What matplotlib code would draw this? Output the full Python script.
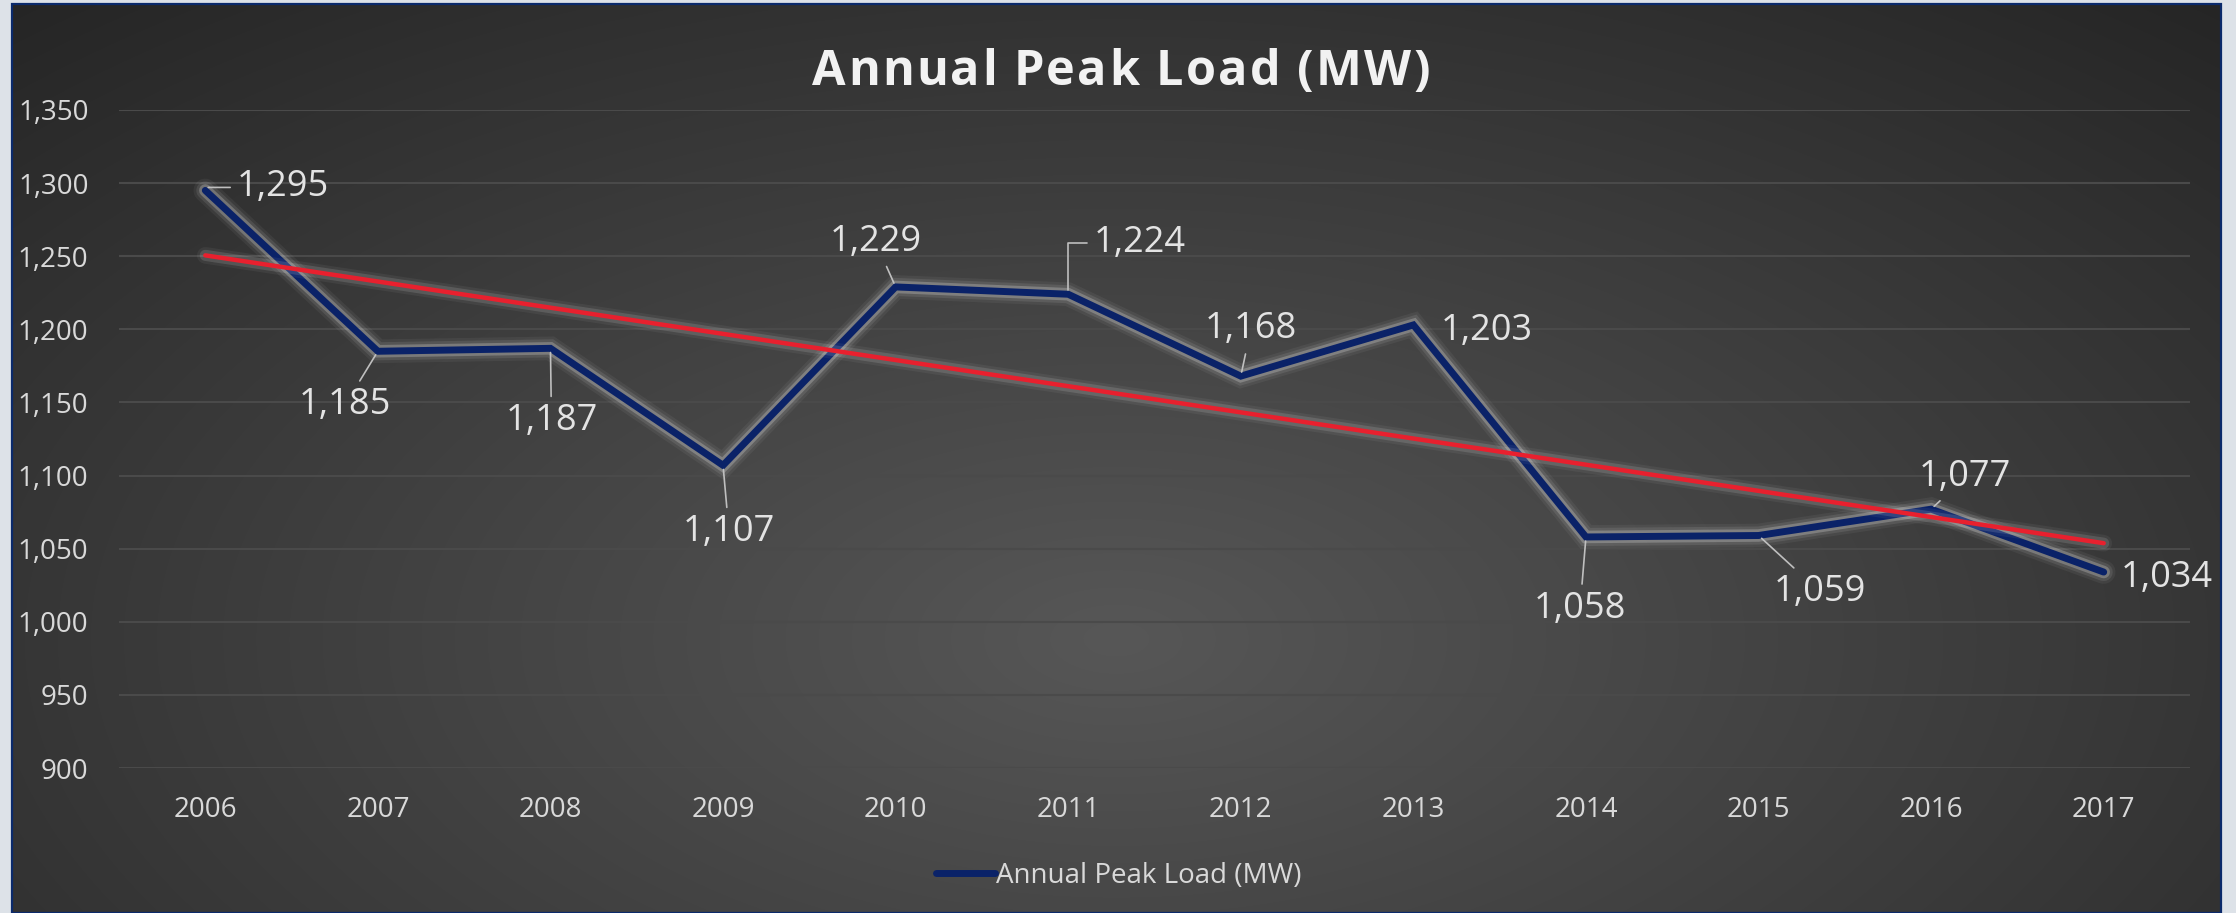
import numpy as np
import matplotlib
matplotlib.use("Agg")
import matplotlib.pyplot as plt
import matplotlib.patheffects as pe
from matplotlib.lines import Line2D
from matplotlib.patches import Rectangle

plt.rcParams['font.family'] = ['Open Sans', 'DejaVu Sans']

years = ['2006', '2007', '2008', '2009', '2010', '2011', '2012', '2013', '2014', '2015', '2016', '2017']
peak_load = [1295, 1185, 1187, 1107, 1229, 1224, 1168, 1203, 1058, 1059, 1077, 1034]
y_ticks = [900, 950, 1000, 1050, 1100, 1150, 1200, 1250, 1300, 1350]
title = 'Annual Peak Load (MW)'
series_name = 'Annual Peak Load (MW)'

# label offsets in pixels (dx, dy), leader-line connection style (None = no leader)
label_offsets = [(78, 3), (-33, -54), (1, -73), (6, -67), (-20, 45), (72, 51),
                 (10, 47), (73, -6), (-6, -72), (61, -56), (34, 32), (63, -6)]
leaders = ['angle,angleA=0,angleB=45,rad=0', 'arc3', 'arc3', 'arc3', 'arc3',
           'angle,angleA=0,angleB=90,rad=0', 'arc3', None, 'arc3', 'arc3', 'arc3', None]

W, H = 2236, 913
fig = plt.figure(figsize=(W / 100, H / 100), dpi=100)
fig.patch.set_facecolor('#dde2e8')

# chart area background with radial gradient
cx0, cx1 = 12 / W, 2221 / W
cy0, cy1 = 0.0, 1 - 4 / H
bg = fig.add_axes([cx0, cy0, cx1 - cx0, cy1 - cy0], zorder=0)
nx, ny = 600, 250
gx, gy = np.meshgrid(np.linspace(0, 1, nx), np.linspace(0, 1, ny))
r = np.sqrt(((gx - 0.5) / 0.75) ** 2 + ((gy - 0.3) / 0.95) ** 2)
r = np.clip(r, 0, 1)
inner = np.array([0x57, 0x57, 0x57]) / 255
outer = np.array([0x25, 0x25, 0x25]) / 255
img = inner[None, None, :] * (1 - r[..., None]) + outer[None, None, :] * r[..., None]
bg.imshow(img, origin='lower', extent=[0, 1, 0, 1], aspect='auto', interpolation='bilinear')
bg.set_xlim(0, 1)
bg.set_ylim(0, 1)
bg.axis('off')
fig.patches.append(Rectangle((cx0, cy0), cx1 - cx0, cy1 - cy0, transform=fig.transFigure,
                             fill=False, edgecolor='#0b2a6b', linewidth=1.6, zorder=5))

ax_left, ax_right = 119 / W, 2190 / W
ax_bottom, ax_top = 1 - 768 / H, 1 - 110 / H
ax = fig.add_axes([ax_left, ax_bottom, ax_right - ax_left, ax_top - ax_bottom], zorder=2)
ax.set_facecolor('none')

x = np.arange(len(years))
ax.set_xlim(-0.5, len(years) - 0.5)
ax.set_ylim(900, 1350)
ax.set_yticks(y_ticks)
ax.set_yticklabels([f'{v:,}' for v in y_ticks])
ax.set_xticks(x)
ax.set_xticklabels(years)
ax.grid(axis='y', color='#4a4a4a', linewidth=1.5)
ax.set_axisbelow(True)
for s in ax.spines.values():
    s.set_visible(False)
ax.tick_params(axis='both', length=0, labelsize=20, colors='#d9d9d9')
ax.tick_params(axis='y', pad=22)
ax.tick_params(axis='x', pad=20)

glow = [pe.Stroke(linewidth=17, foreground='white', alpha=0.05),
        pe.Stroke(linewidth=13, foreground='white', alpha=0.09),
        pe.Stroke(linewidth=9, foreground='white', alpha=0.22),
        pe.Normal()]

NAVY = '#0a2268'
ax.plot(x, peak_load, color=NAVY, linewidth=5, solid_capstyle='round',
        solid_joinstyle='miter', zorder=3, path_effects=glow)

coef = np.polyfit(x, peak_load, 1)
trend = np.polyval(coef, x)
glow2 = [pe.Stroke(linewidth=12, foreground='white', alpha=0.05),
         pe.Stroke(linewidth=8, foreground='white', alpha=0.12),
         pe.Normal()]
ax.plot(x, trend, color='#e8202e', linewidth=3.2, solid_capstyle='round', zorder=4,
        path_effects=glow2)

for xi, v, (dx, dy), ld in zip(x, peak_load, label_offsets, leaders):
    kw = {}
    if ld:
        kw['arrowprops'] = dict(arrowstyle='-', color='#bfbfbf', linewidth=1.2,
                                shrinkA=3, shrinkB=3, connectionstyle=ld)
    ax.annotate(f'{v:,}', xy=(xi, v), xytext=(dx, dy), textcoords='offset pixels',
                ha='center', va='center', fontsize=26, color='#e3e3e3', zorder=6, **kw)

# title with letter spacing
renderer = fig.canvas.get_renderer()
title_size = 35
spacing = 2.2  # px between letters
chars = []
widths = []
for ch in title:
    t = fig.text(0, 0, ch, fontsize=title_size, fontweight='bold', color='#f2f2f2',
                 ha='left', va='baseline', zorder=6)
    if ch == ' ':
        w = fig.text(0, 0, 'a a', fontsize=title_size, fontweight='bold').get_window_extent(renderer).width
        fig.texts.pop()
        w2 = fig.text(0, 0, 'aa', fontsize=title_size, fontweight='bold').get_window_extent(renderer).width
        fig.texts.pop()
        widths.append(w - w2)
    else:
        widths.append(t.get_window_extent(renderer).width)
    chars.append(t)
total = sum(widths) + spacing * (len(chars) - 1)
xpos = 1121 - total / 2
baseline = H - 85
for t, w in zip(chars, widths):
    t.set_position((xpos / W, baseline / H))
    xpos += w + spacing

handle = Line2D([], [], color=NAVY, linewidth=5, solid_capstyle='round')
fig.legend(handles=[handle], labels=[series_name], loc='center',
           bbox_to_anchor=(1119 / W, 1 - 876 / H),
           frameon=False, fontsize=20, handlelength=2.1, handletextpad=0.05,
           labelcolor='#d9d9d9')

fig.savefig('out.png', dpi=100, facecolor=fig.get_facecolor())
